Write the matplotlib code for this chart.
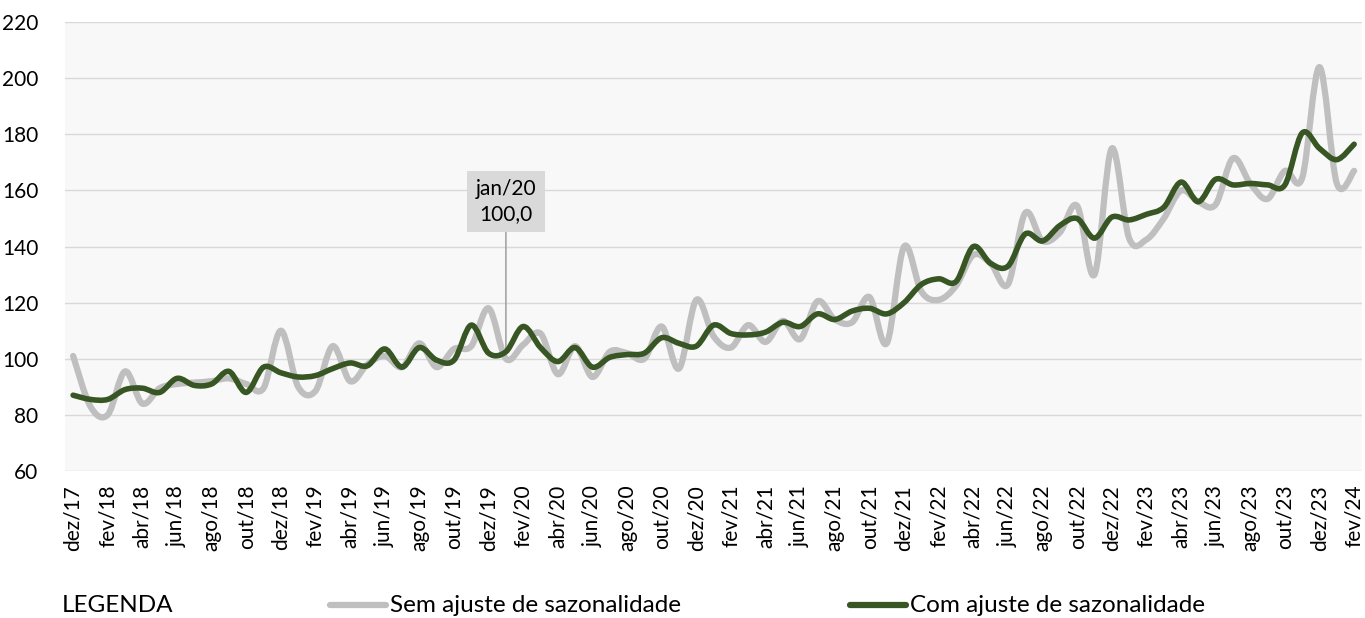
import matplotlib
matplotlib.use("Agg")
import matplotlib.pyplot as plt
import numpy as np
from matplotlib.path import Path
from matplotlib.patches import PathPatch
from matplotlib.lines import Line2D

plt.rcParams['font.family'] = ['Lato', 'DejaVu Sans']

# meses: dez/17 ... fev/24
month_names = ["jan", "fev", "mar", "abr", "mai", "jun", "jul", "ago", "set", "out", "nov", "dez"]
labels = ["dez/17"]
for yy in range(18, 24):
    labels += [m + "/" + str(yy) for m in month_names]
labels += ["jan/24", "fev/24"]

# com ajuste de sazonalidade
com_ajuste = [87,
              85.5, 85.5, 89, 89.5, 88, 93, 90.5, 91, 95.5, 88, 97, 95,
              93.5, 94, 96.5, 98.5, 97.5, 103.5, 97, 104, 99.5, 99.5, 112, 102,
              102.5, 111.5, 104, 99, 104, 97, 100.5, 101.5, 102, 107.5, 105.5, 104.5,
              112, 109, 108.5, 109.5, 113, 111.5, 116, 114, 117, 118, 116, 120,
              126.5, 128.5, 127.5, 140, 134, 133, 144.5, 142, 147.5, 150, 143, 150.5,
              149.5, 151.5, 154, 163, 156, 164, 162, 162.5, 162, 162, 180.5, 175,
              171, 176.5]

# sem ajuste de sazonalidade
sem_ajuste = [101,
              83, 80, 95.5, 84, 89.5, 91, 91.5, 92, 93, 91, 89.5, 110,
              90, 88.5, 104.5, 92, 98, 101, 97, 105.5, 97, 103.5, 104.5, 118,
              100, 105, 109, 94.5, 104.5, 93.5, 102.5, 102, 100, 111.5, 96.5, 121,
              108, 104, 112, 106, 113.5, 107, 120.5, 114, 113, 122, 105.5, 140,
              124, 121, 126, 137, 134, 126.5, 152, 142, 145, 154.5, 130, 175,
              143, 142.5, 150, 160, 156, 155, 171.5, 162.5, 157, 167, 164.5, 204,
              162.5, 167]

yticks = [60, 80, 100, 120, 140, 160, 180, 200, 220]

cinza = "#bfbfbf"
verde = "#375623"


def smooth_path(x, y):
    # curva suavizada tipo excel (bezier)
    pts = np.column_stack([x, y]).astype(float)
    n = len(pts)
    verts = [pts[0]]
    codes = [Path.MOVETO]
    for i in range(n - 1):
        p0 = pts[i - 1] if i > 0 else pts[i]
        p1 = pts[i]
        p2 = pts[i + 1]
        p3 = pts[i + 2] if i + 2 < n else pts[i + 1]
        verts += [p1 + (p2 - p0) / 6.0, p2 - (p3 - p1) / 6.0, p2]
        codes += [Path.CURVE4] * 3
    return Path(verts, codes)


fig = plt.figure(figsize=(13.65, 6.18), dpi=100)
ax = fig.add_axes([0.0476, 0.238, 0.9504, 0.726])
ax.set_facecolor("#f8f8f8")

x = np.arange(len(labels))
ax.add_patch(PathPatch(smooth_path(x, sem_ajuste), fill=False, edgecolor=cinza,
                       lw=4.5, capstyle="round", joinstyle="round", zorder=3))
ax.add_patch(PathPatch(smooth_path(x, com_ajuste), fill=False, edgecolor=verde,
                       lw=4.0, capstyle="round", joinstyle="round", zorder=4))

ax.set_xlim(-0.47, len(labels) - 1 + 0.47)
ax.set_ylim(60, 220)
ax.set_yticks(yticks)
ax.set_yticklabels([str(v) for v in yticks], fontsize=15)
ax.set_xticks(x[::2])
ax.set_xticklabels(labels[::2], rotation=90, fontsize=15)
ax.tick_params(axis="both", length=0)
ax.tick_params(axis="y", pad=19)
ax.tick_params(axis="x", pad=10)
ax.grid(axis="y", color="#d9d9d9", lw=1)
ax.set_axisbelow(True)
for s in ax.spines.values():
    s.set_visible(False)

# destaque jan/20
i_ref = labels.index("jan/20")
ax.annotate("jan/20\n100,0", xy=(i_ref, sem_ajuste[i_ref]), xytext=(i_ref, 156),
            ha="center", va="center", fontsize=15, linespacing=1.3,
            bbox=dict(boxstyle="square,pad=0.4", fc="#d9d9d9", ec="none"),
            arrowprops=dict(arrowstyle="-", color="#a6a6a6", lw=1.2, shrinkA=0, shrinkB=0),
            zorder=2)

# legenda
yl = 1 - 605 / 618
fig.text(62 / 1365, yl, "LEGENDA", fontsize=17.5, va="center", ha="left")
fig.add_artist(Line2D([330 / 1365, 386 / 1365], [yl] * 2, color=cinza, lw=4.5,
                      solid_capstyle="round", transform=fig.transFigure))
fig.text(390 / 1365, yl, "Sem ajuste de sazonalidade", fontsize=17.5, va="center", ha="left")
fig.add_artist(Line2D([850 / 1365, 906 / 1365], [yl] * 2, color=verde, lw=4.5,
                      solid_capstyle="round", transform=fig.transFigure))
fig.text(910 / 1365, yl, "Com ajuste de sazonalidade", fontsize=17.5, va="center", ha="left")

fig.savefig("out.png", dpi=100)
